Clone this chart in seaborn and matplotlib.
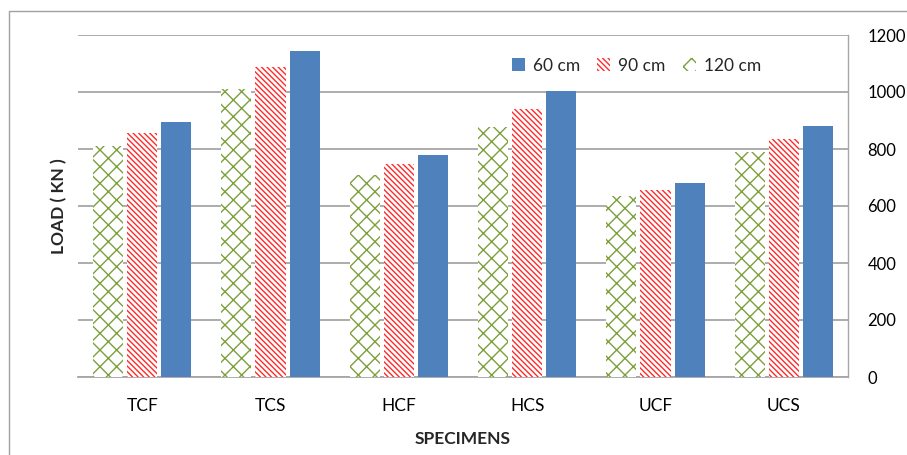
import matplotlib
matplotlib.use("Agg")
import matplotlib.pyplot as plt
from matplotlib.patches import Patch, Rectangle
import seaborn as sns
import pandas as pd

specimens = ["TCF", "TCS", "HCF", "HCS", "UCF", "UCS"]
load_120 = [812, 1010, 710, 876, 634, 790]
load_90 = [856, 1087, 749, 942, 655, 836]
load_60 = [896, 1145, 778, 1005, 682, 881]
sizes = ["120 cm", "90 cm", "60 cm"]
y_ticks = [0, 200, 400, 600, 800, 1000, 1200]

df = pd.DataFrame({
    "SPECIMENS": specimens * 3,
    "LOAD": load_120 + load_90 + load_60,
    "size": [sizes[0]] * 6 + [sizes[1]] * 6 + [sizes[2]] * 6,
})

sns.set_theme(style="white")
plt.rcParams["font.family"] = ["Lato", "DejaVu Sans"]
plt.rcParams["hatch.linewidth"] = 1.0

green = "#7D9F3C"
red = "#FF2A2A"
blue = "#4F81BD"
grid_gray = "#A6A6A6"
hatch_120 = "xx"
hatch_90 = "\\" * 6
fs = 12.5

fig = plt.figure(figsize=(9.07, 4.55), dpi=100)
ax = fig.add_axes([78 / 907, 1 - 377 / 455, 770 / 907, 342 / 455])

sns.barplot(data=df, x="SPECIMENS", y="LOAD", hue="size", hue_order=sizes,
            order=specimens, palette=["white", "white", blue], width=0.8,
            gap=0.12, errorbar=None, legend=False, ax=ax, zorder=3)

styles = {
    "120 cm": dict(facecolor="white", edgecolor=green, hatch=hatch_120),
    "90 cm": dict(facecolor="white", edgecolor=red, hatch=hatch_90),
    "60 cm": dict(facecolor=blue, edgecolor=blue, hatch=None),
}
for cont, name in zip(ax.containers, sizes):
    for bar in cont:
        bar.set_facecolor(styles[name]["facecolor"])
        bar.set_edgecolor(styles[name]["edgecolor"])
        bar.set_hatch(styles[name]["hatch"])
        bar.set_linewidth(0)

ax.set_xlim(-0.5, 5.5)
ax.set_ylim(0, 1200)
ax.set_yticks(y_ticks)
ax.yaxis.tick_right()
ax.yaxis.set_label_position("left")
ax.grid(axis="y", color=grid_gray, linewidth=1.3, zorder=0)
ax.set_axisbelow(True)
ax.tick_params(axis="y", length=0, pad=14, labelsize=12, labelcolor="black")
ax.tick_params(axis="x", length=0, pad=15, labelsize=fs, labelcolor="black")

for side in ["top", "left"]:
    ax.spines[side].set_visible(False)
ax.spines["right"].set_color(grid_gray)
ax.spines["right"].set_linewidth(1.0)
ax.spines["bottom"].set_color(grid_gray)
ax.spines["bottom"].set_linewidth(1.3)

ax.set_xlabel("SPECIMENS", fontsize=fs, fontweight="bold", labelpad=12)
ax.set_ylabel("LOAD ( KN )", fontsize=fs, fontweight="bold")
ax.yaxis.set_label_coords(-0.0143, 0.5)

handles = [
    Patch(facecolor=blue, edgecolor=blue, linewidth=0, label="60 cm"),
    Patch(facecolor="white", edgecolor=red, hatch=hatch_90, linewidth=0, label="90 cm"),
    Patch(facecolor="white", edgecolor=green, hatch=hatch_120, linewidth=0, label="120 cm"),
]
ax.legend(handles=handles, loc="center", bbox_to_anchor=(0.725, 0.91), ncol=3,
          frameon=False, fontsize=fs, handlelength=0.75, handleheight=0.75,
          handletextpad=0.45, columnspacing=1.0)

# outer chart frame
fig.patches.append(Rectangle((9 / 907, -0.05), 1.0, 1 - 11 / 455 + 0.05,
                             transform=fig.transFigure, fill=False,
                             edgecolor="#A0A0A0", linewidth=1.0))

fig.savefig("out.png", dpi=100)
